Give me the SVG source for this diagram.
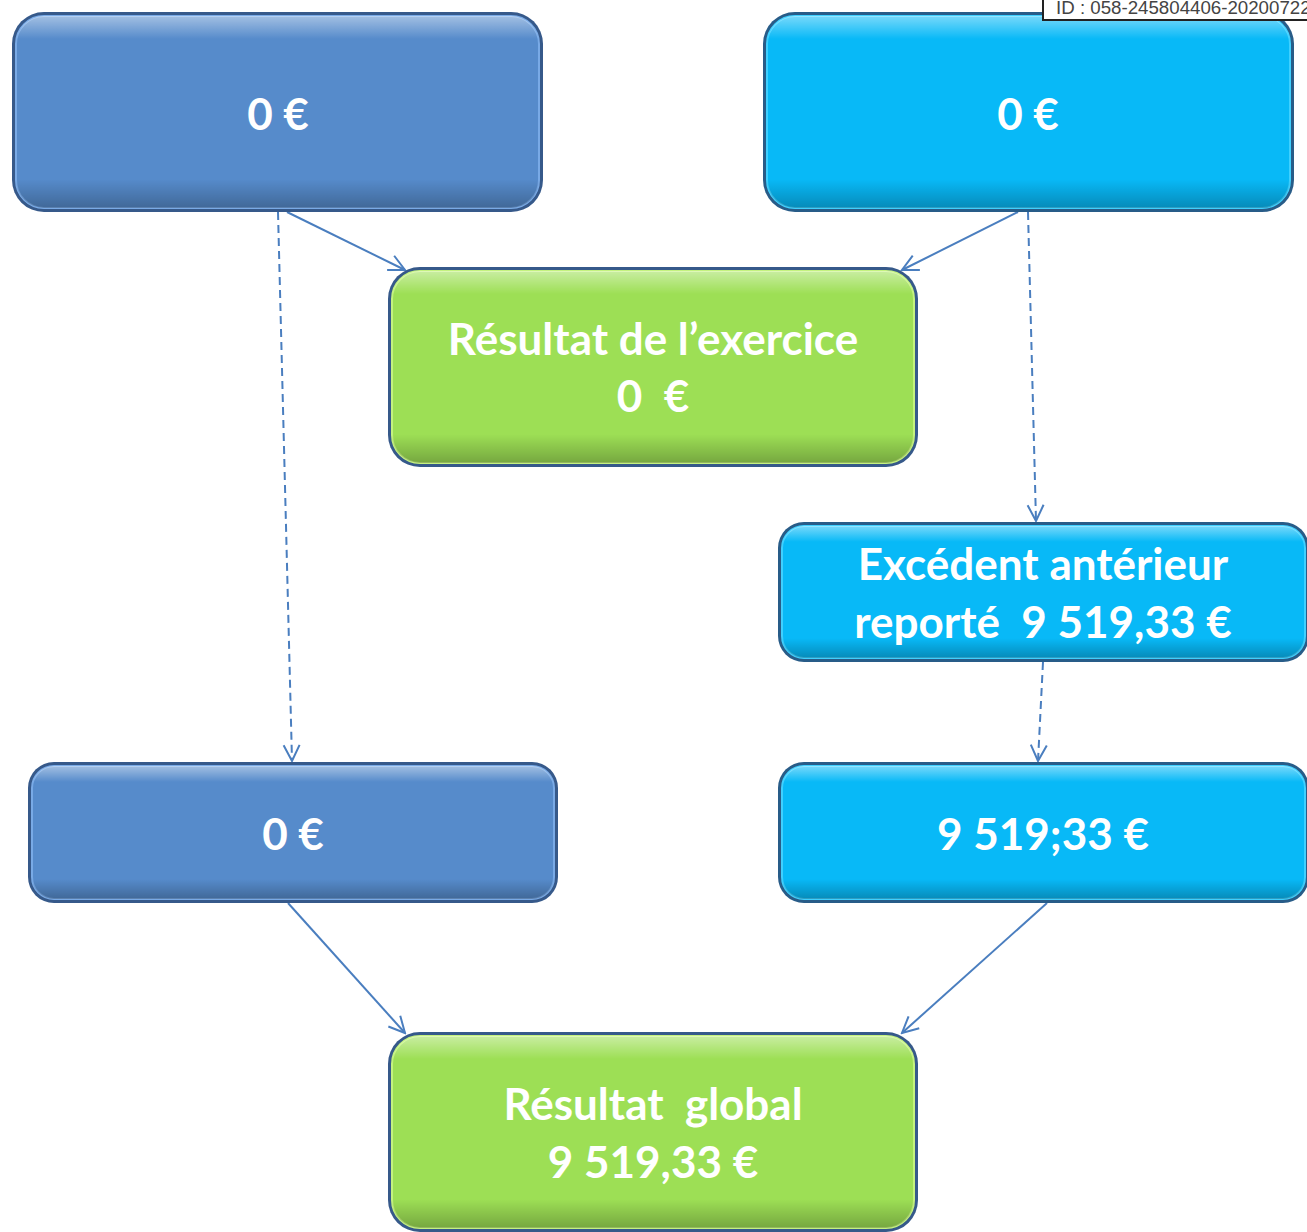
<svg xmlns="http://www.w3.org/2000/svg" width="1307" height="1232" viewBox="0 0 1307 1232">
<style>
.lbl{font-family:Lato,"Open Sans","Liberation Sans",sans-serif;font-weight:bold;font-size:44px;fill:#ffffff;text-anchor:middle;white-space:pre}
.con{stroke:#4a7ebf;stroke-width:2;fill:none}
.dash{stroke-dasharray:8 5}
.id{font-family:"Liberation Sans",Arial,sans-serif;font-size:18.7px;fill:#444}
</style>
<defs>
<marker id="arr" viewBox="0 0 20 20" refX="18" refY="10" markerWidth="20" markerHeight="20" markerUnits="userSpaceOnUse" orient="auto">
<path d="M2,2 L18,10 L2,18" fill="none" stroke="#4a7ebf" stroke-width="2"/>
</marker>
<linearGradient id="hl" x1="0" y1="0" x2="0" y2="1">
<stop offset="0" stop-color="#ffffff" stop-opacity="0.45"/>
<stop offset="0.12" stop-color="#ffffff" stop-opacity="0"/>
<stop offset="0.85" stop-color="#000000" stop-opacity="0"/>
<stop offset="1" stop-color="#000000" stop-opacity="0.25"/>
</linearGradient>
</defs>

<g id="connectors">
<line class="con" x1="287" y1="212" x2="405" y2="270" marker-end="url(#arr)"/>
<line class="con" x1="1018" y1="212" x2="902" y2="270" marker-end="url(#arr)"/>
<line class="con dash" x1="278" y1="212" x2="292" y2="761" marker-end="url(#arr)"/>
<line class="con dash" x1="1028" y1="212" x2="1036" y2="521" marker-end="url(#arr)"/>
<line class="con dash" x1="1043" y1="662" x2="1038" y2="761" marker-end="url(#arr)"/>
<line class="con" x1="288" y1="903" x2="405" y2="1033" marker-end="url(#arr)"/>
<line class="con" x1="1047" y1="903" x2="902" y2="1033" marker-end="url(#arr)"/>
</g>

<g id="n1">
<rect x="12" y="12" width="531" height="200" rx="32" fill="#36598a"/>
<rect x="16" y="16" width="523" height="192" rx="28" fill="#568bcb" stroke="#79aae6" stroke-width="2"/>
<rect x="16" y="16" width="523" height="192" rx="28" fill="url(#hl)"/>
<text class="lbl" x="278" y="130">0 €</text>
</g>

<g id="n2">
<rect x="763" y="12" width="531" height="200" rx="32" fill="#285c88"/>
<rect x="767" y="16" width="523" height="192" rx="28" fill="#08b9f7" stroke="#3fd0ff" stroke-width="2"/>
<rect x="767" y="16" width="523" height="192" rx="28" fill="url(#hl)"/>
<text class="lbl" x="1028" y="130">0 €</text>
</g>

<g id="n3">
<rect x="388" y="267" width="530" height="200" rx="32" fill="#36598a"/>
<rect x="392" y="271" width="522" height="192" rx="28" fill="#9ddf55" stroke="#c4f27f" stroke-width="2"/>
<rect x="392" y="271" width="522" height="192" rx="28" fill="url(#hl)"/>
<text class="lbl" x="653" y="355" xml:space="preserve">Résultat de l’exercice</text>
<text class="lbl" x="653" y="412" xml:space="preserve">0  €</text>
</g>

<g id="n4">
<rect x="778" y="522" width="531" height="140" rx="26" fill="#285c88"/>
<rect x="782" y="526" width="523" height="132" rx="22" fill="#08b9f7" stroke="#3fd0ff" stroke-width="2"/>
<rect x="782" y="526" width="523" height="132" rx="22" fill="url(#hl)"/>
<text class="lbl" x="1043" y="580" xml:space="preserve">Excédent antérieur</text>
<text class="lbl" x="1043" y="638" xml:space="preserve">reporté  9 519,33 €</text>
</g>

<g id="n5">
<rect x="28" y="762" width="530" height="141" rx="26" fill="#36598a"/>
<rect x="32" y="766" width="522" height="133" rx="22" fill="#568bcb" stroke="#79aae6" stroke-width="2"/>
<rect x="32" y="766" width="522" height="133" rx="22" fill="url(#hl)"/>
<text class="lbl" x="293" y="850">0 €</text>
</g>

<g id="n6">
<rect x="778" y="762" width="531" height="141" rx="26" fill="#285c88"/>
<rect x="782" y="766" width="523" height="133" rx="22" fill="#08b9f7" stroke="#3fd0ff" stroke-width="2"/>
<rect x="782" y="766" width="523" height="133" rx="22" fill="url(#hl)"/>
<text class="lbl" x="1043" y="850">9 519;33 €</text>
</g>

<g id="n7">
<rect x="388" y="1032" width="530" height="200" rx="32" fill="#36598a"/>
<rect x="392" y="1036" width="522" height="192" rx="28" fill="#9ddf55" stroke="#c4f27f" stroke-width="2"/>
<rect x="392" y="1036" width="522" height="192" rx="28" fill="url(#hl)"/>
<text class="lbl" x="653" y="1120" xml:space="preserve">Résultat  global</text>
<text class="lbl" x="653" y="1178">9 519,33 €</text>
</g>

<g id="idlabel">
<rect x="1043" y="-2" width="270" height="22" fill="#ffffff" stroke="#222" stroke-width="2"/>
<text class="id" x="1056" y="14">ID : 058-245804406-20200722</text>
</g>
</svg>
